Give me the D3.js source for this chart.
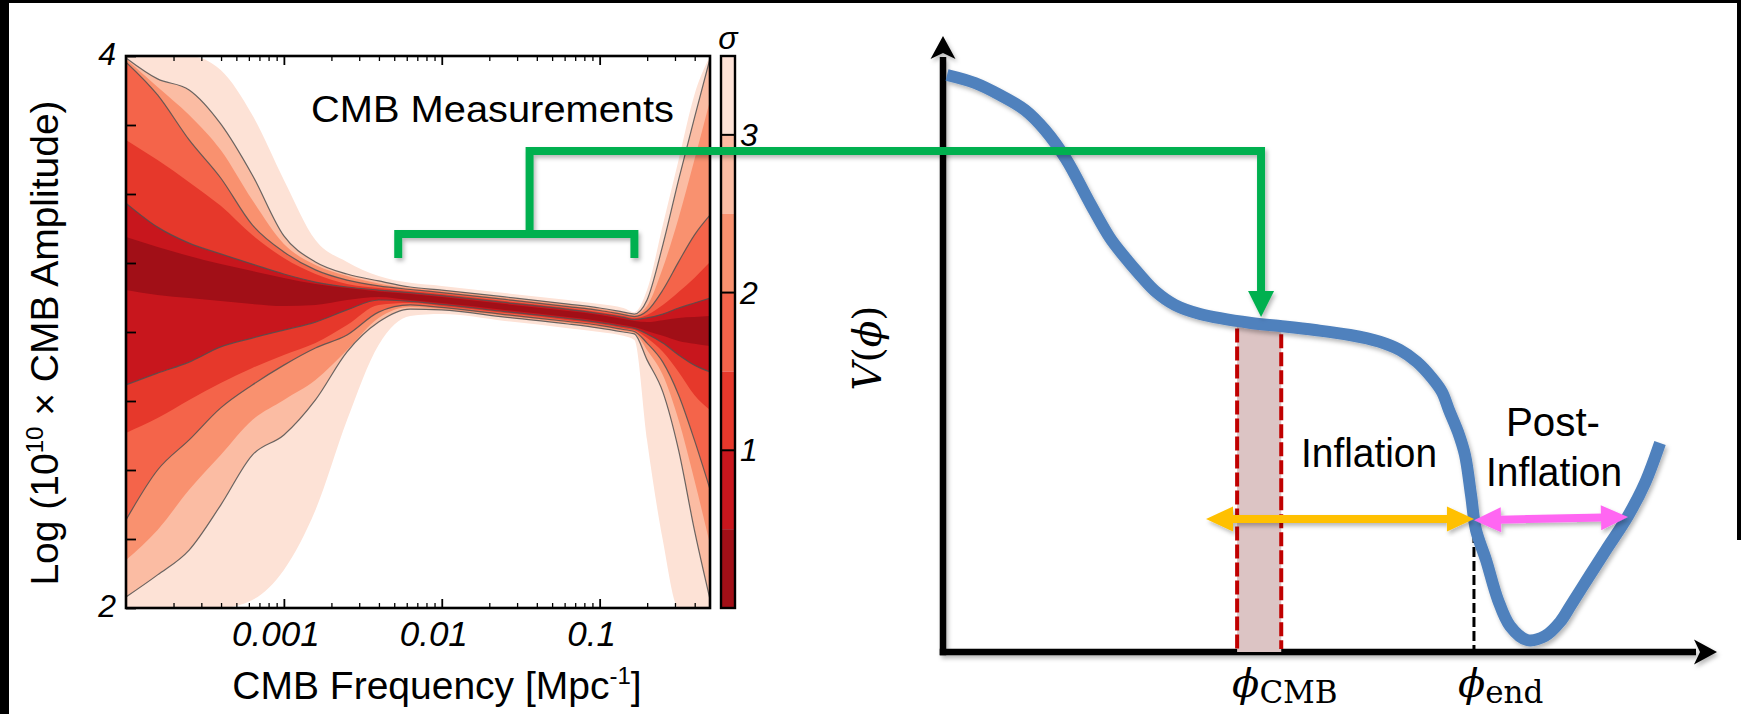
<!DOCTYPE html>
<html><head><meta charset="utf-8">
<script src="https://cdn.jsdelivr.net/npm/d3@7"></script>
<style>
html,body{margin:0;padding:0;background:#fff;}
svg{display:block;}
</style></head>
<body>
<svg id="chart" width="1741" height="714"></svg>
<script>
// ---------------- LEFT PANEL DATA (CMB constraints) ----------------
const logK = [-4.0,-3.8,-3.6,-3.4,-3.2,-3.0,-2.8,-2.6,-2.4,-2.2,-2.0,-1.6,-1.2,-1.0,-0.85,-0.78,-0.7,-0.6,-0.5,-0.4,-0.3];
const sigmaLevels = [3.5,3.0,2.5,2.0,1.5,1.0,0.5];
const upper35 = [4.000,4.000,4.000,3.949,3.786,3.551,3.333,3.254,3.203,3.178,3.167,3.141,3.116,3.101,3.087,3.072,3.152,3.388,3.623,3.859,4.000];
const upper30 = [3.993,3.917,3.877,3.754,3.569,3.348,3.254,3.210,3.185,3.163,3.152,3.127,3.101,3.087,3.072,3.065,3.116,3.315,3.551,3.775,3.993];
const upper25 = [3.989,3.888,3.786,3.659,3.478,3.319,3.243,3.203,3.176,3.159,3.149,3.123,3.098,3.083,3.069,3.062,3.094,3.232,3.413,3.623,3.841];
const upper20 = [3.978,3.859,3.696,3.558,3.388,3.290,3.225,3.188,3.167,3.154,3.143,3.118,3.092,3.078,3.063,3.056,3.076,3.152,3.254,3.351,3.424];
const upper15 = [3.696,3.623,3.543,3.457,3.351,3.268,3.210,3.174,3.159,3.149,3.138,3.112,3.087,3.072,3.058,3.051,3.062,3.098,3.145,3.196,3.254];
const upper10 = [3.467,3.380,3.322,3.283,3.246,3.210,3.181,3.163,3.152,3.143,3.132,3.107,3.082,3.067,3.053,3.045,3.051,3.065,3.087,3.105,3.123];
const upper05 = [3.344,3.308,3.275,3.246,3.221,3.196,3.174,3.159,3.147,3.138,3.127,3.101,3.076,3.062,3.047,3.040,3.036,3.043,3.051,3.054,3.058];
const lower05 = [3.152,3.134,3.123,3.112,3.101,3.094,3.098,3.116,3.127,3.116,3.105,3.080,3.054,3.040,3.025,3.018,3.004,2.986,2.967,2.957,2.949];
const lower10 = [2.808,2.851,2.891,2.946,2.978,3.007,3.036,3.080,3.116,3.111,3.100,3.074,3.049,3.034,3.020,3.013,2.993,2.960,2.917,2.880,2.855];
const lower15 = [2.634,2.688,2.754,2.815,2.870,2.917,2.960,3.025,3.098,3.105,3.094,3.069,3.043,3.029,3.014,3.007,2.978,2.928,2.855,2.772,2.717];
const lower20 = [2.319,2.500,2.609,2.725,2.808,2.880,2.942,2.989,3.072,3.098,3.089,3.063,3.038,3.024,3.009,3.002,2.960,2.891,2.772,2.609,2.428];
const lower25 = [2.174,2.283,2.428,2.554,2.681,2.754,2.826,2.935,3.051,3.091,3.083,3.058,3.033,3.018,3.004,2.996,2.935,2.844,2.681,2.464,2.228];
const lower30 = [2.040,2.120,2.210,2.373,2.554,2.627,2.754,2.928,3.036,3.083,3.080,3.054,3.029,3.014,3.000,2.993,2.899,2.783,2.572,2.283,2.029];
const lower35 = [2.000,2.000,2.000,2.000,2.029,2.138,2.355,2.681,2.953,3.058,3.065,3.040,3.014,3.000,2.986,2.971,2.609,2.246,2.000,2.000,2.000];
const bandColors = ["#fde2d6","#fbbca3","#f9916f","#f4644a","#e6382b","#c8161d","#a10f17"];
const kMajorTicks = [0.001, 0.01, 0.1];
const kMajorLabels = ["0.001","0.01","0.1"];
const ampTicks = [2,2.25,2.5,2.75,3,3.25,3.5,3.75,4];
const ampLabelValues = [4,2];
const sigmaTicks = [1,2,3];
const kDomain = [1e-4, 0.5];
const ampDomain = [2, 4];
const sigmaDomain = [0, 3.5];

// green bracket / link (data coordinates)
const bracketK = [0.0053, 0.166];
const stemK = 0.036;
const bracketAmp = 3.355, bracketTickAmp = 3.268, linkAmp = 3.656;

// ---------------- RIGHT PANEL DATA (potential) ----------------
const potPhi = [0.052,0.413,0.736,1.059,1.318,1.589,1.912,2.158,2.326,2.545,2.739,2.997,3.320,3.979,4.354,4.806,5.258,5.633,5.904,6.124,6.318,6.447,6.537,6.654,6.744,6.822,6.886,7.016,7.171,7.326,7.545,7.778,7.972,8.114,8.359,8.566,8.850,9.070,9.264];
const potV   = [9.367,9.237,9.042,8.799,8.474,8.003,7.256,6.721,6.445,6.120,5.860,5.633,5.487,5.341,5.292,5.227,5.146,5.041,4.903,4.708,4.448,4.221,3.929,3.571,3.198,2.549,1.981,1.494,0.844,0.422,0.195,0.260,0.487,0.763,1.250,1.656,2.208,2.744,3.393];
const phiCMB = [3.80, 4.37];
const phiEnd = 6.86;
const inflationArrow = {phi0: 3.398, phi1: 6.86, v: 2.159};
const postArrow = {phi0: 6.86, v0: 2.14, phi1: 8.85, v1: 2.19};
const greenTarget = {phi: 4.109, v: 5.438};

// ---------------- SETUP ----------------
const svg = d3.select("#chart");
const defs = svg.append("defs");
const filt = defs.append("filter").attr("id","shadow").attr("x","-20%").attr("y","-20%").attr("width","140%").attr("height","140%");
filt.append("feDropShadow").attr("dx",2).attr("dy",3).attr("stdDeviation",2).attr("flood-color","#000").attr("flood-opacity",0.28);

svg.append("rect").attr("width",1741).attr("height",714).attr("fill","#fff");

const P = {x0:126, x1:710, y0:56, y1:608};
const xK = d3.scaleLog().domain(kDomain).range([P.x0, P.x1]);
const yA = d3.scaleLinear().domain(ampDomain).range([P.y1, P.y0]);
const sS = d3.scaleLinear().domain(sigmaDomain).range([P.y1, P.y0]);

defs.append("clipPath").attr("id","plotclip").append("rect")
  .attr("x",P.x0).attr("y",P.y0).attr("width",P.x1-P.x0).attr("height",P.y1-P.y0);

const uppers = [upper35,upper30,upper25,upper20,upper15,upper10,upper05];
const lowers = [lower35,lower30,lower25,lower20,lower15,lower10,lower05];

const gC = svg.append("g").attr("clip-path","url(#plotclip)");
const area = d3.area().x(d=>xK(d.k)).y0(d=>yA(d.lo)).y1(d=>yA(d.hi)).curve(d3.curveMonotoneX);
sigmaLevels.forEach((lev,i)=>{
  const data = logK.map((lk,j)=>({k:Math.pow(10,lk), hi:uppers[i][j], lo:lowers[i][j]}));
  gC.append("path").datum(data).attr("d",area).attr("fill",bandColors[i]);
});
const line = d3.line().x(d=>xK(d.k)).y(d=>yA(d.v)).curve(d3.curveMonotoneX);
[upper30,lower30,upper20,lower20,upper10,lower10].forEach(arr=>{
  const data = logK.map((lk,j)=>({k:Math.pow(10,lk), v:arr[j]}));
  gC.append("path").datum(data).attr("d",line).attr("fill","none")
    .attr("stroke","#505050").attr("stroke-width",1.2).attr("stroke-opacity",0.85);
});

// ticks
const minorK = [];
for (let d=-4; d<=-1; d++) for (let m=2; m<=9; m++){ const v=m*Math.pow(10,d); if (v<kDomain[1]) minorK.push(v); }
function styleAxis(g, w){ g.select(".domain").remove(); g.selectAll(".tick line").attr("stroke","#000").attr("stroke-width",w); }
styleAxis(svg.append("g").attr("transform",`translate(0,${P.y1})`).call(d3.axisBottom(xK).tickValues(minorK).tickSize(-5).tickFormat("")),1.3);
styleAxis(svg.append("g").attr("transform",`translate(0,${P.y1})`).call(d3.axisBottom(xK).tickValues(kMajorTicks).tickSize(-9).tickFormat("")),1.8);
styleAxis(svg.append("g").attr("transform",`translate(0,${P.y0})`).call(d3.axisTop(xK).tickValues(minorK).tickSize(-5).tickFormat("")),1.3);
styleAxis(svg.append("g").attr("transform",`translate(0,${P.y0})`).call(d3.axisTop(xK).tickValues(kMajorTicks).tickSize(-9).tickFormat("")),1.8);
styleAxis(svg.append("g").attr("transform",`translate(${P.x0},0)`).call(d3.axisLeft(yA).tickValues(ampTicks).tickSize(-10).tickFormat("")),1.8);

svg.append("rect").attr("x",P.x0).attr("y",P.y0).attr("width",P.x1-P.x0).attr("height",P.y1-P.y0)
  .attr("fill","none").attr("stroke","#000").attr("stroke-width",2.6);

const sans = "'Liberation Sans', Arial, sans-serif";
kMajorTicks.forEach((k,i)=>{
  svg.append("text").attr("x",xK(k)-8).attr("y",646).attr("text-anchor","middle")
    .attr("font-family",sans).attr("font-style","italic").attr("font-size",35).text(kMajorLabels[i]);
});
ampLabelValues.forEach(v=>{
  svg.append("text").attr("x",P.x0-10).attr("y",yA(v)+9).attr("text-anchor","end")
    .attr("font-family",sans).attr("font-style","italic").attr("font-size",32).text(String(v));
});
// x label
const xl = svg.append("text").attr("x",437).attr("y",699).attr("text-anchor","middle")
  .attr("font-family",sans).attr("font-size",39);
xl.append("tspan").text("CMB Frequency [Mpc");
xl.append("tspan").attr("font-size",24).attr("dy",-15).text("-1");
xl.append("tspan").attr("dy",15).text("]");
// y label
const yl = svg.append("text").attr("transform","translate(58,343) rotate(-90)").attr("text-anchor","middle")
  .attr("font-family",sans).attr("font-size",39);
yl.append("tspan").text("Log (10");
yl.append("tspan").attr("font-size",24).attr("dy",-15).text("10");
yl.append("tspan").attr("dy",15).text(" \u00d7 CMB Amplitude)");
// title
svg.append("text").attr("x",311).attr("y",122).attr("font-family",sans).attr("font-size",37)
  .attr("textLength",363).attr("lengthAdjust","spacingAndGlyphs").text("CMB Measurements");

// colorbar
const CB = {x:721, w:14};
sigmaLevels.forEach((lev,i)=>{
  svg.append("rect").attr("x",CB.x).attr("width",CB.w).attr("y",sS(lev)).attr("height",sS(lev-0.5)-sS(lev)).attr("fill",bandColors[i]);
});
sigmaTicks.forEach(s=>{
  svg.append("line").attr("x1",CB.x).attr("x2",CB.x+CB.w).attr("y1",sS(s)).attr("y2",sS(s)).attr("stroke","#000").attr("stroke-width",2);
  svg.append("text").attr("x",CB.x+CB.w+5).attr("y",sS(s)+11).attr("font-family",sans).attr("font-style","italic")
    .attr("font-size",32).text(String(s));
});
svg.append("rect").attr("x",CB.x).attr("y",P.y0).attr("width",CB.w).attr("height",P.y1-P.y0)
  .attr("fill","none").attr("stroke","#000").attr("stroke-width",2.4);
svg.append("text").attr("x",CB.x+CB.w/2).attr("y",49).attr("text-anchor","middle").attr("font-family",sans)
  .attr("font-style","italic").attr("font-size",32).text("\u03c3");

// ---------------- RIGHT PANEL ----------------
const phiX = d3.scaleLinear().domain([0,10]).range([943,1717]);
const VY = d3.scaleLinear().domain([0,10]).range([652,36]);
function curveV(phi){
  const i = d3.bisectLeft(potPhi, phi);
  if (i<=0) return potV[0];
  if (i>=potPhi.length) return potV[potPhi.length-1];
  const t=(phi-potPhi[i-1])/(potPhi[i]-potPhi[i-1]);
  return potV[i-1]+t*(potV[i]-potV[i-1]);
}
// axes with arrowheads
const gAx = svg.append("g").attr("filter","url(#shadow)");
const AL=23, AH=12.5, AN=6;
gAx.append("line").attr("x1",phiX(0)).attr("x2",phiX(0)).attr("y1",VY(0)+3.25).attr("y2",VY(10)+AL-2).attr("stroke","#000").attr("stroke-width",6.5);
gAx.append("line").attr("x1",phiX(0)-3.25).attr("x2",phiX(10)-AL+2).attr("y1",VY(0)).attr("y2",VY(0)).attr("stroke","#000").attr("stroke-width",6.5);
{
  const tx=phiX(0), ty=VY(10);
  gAx.append("polygon").attr("points",`${tx},${ty} ${tx+AH},${ty+AL} ${tx},${ty+AL-AN} ${tx-AH},${ty+AL}`).attr("fill","#000");
  const rx=phiX(10), ry=VY(0);
  gAx.append("polygon").attr("points",`${rx},${ry} ${rx-AL},${ry-AH} ${rx-AL+AN},${ry} ${rx-AL},${ry+AH}`).attr("fill","#000");
}
// CMB band
const vCMB0 = curveV(phiCMB[0]), vCMB1 = curveV(phiCMB[1]);
svg.append("path").attr("d",`M${phiX(phiCMB[0])},${VY(0)} L${phiX(phiCMB[0])},${VY(vCMB0)} L${phiX(phiCMB[1])},${VY(vCMB1)} L${phiX(phiCMB[1])},${VY(0)} Z`)
  .attr("fill","#dcc4c4");
phiCMB.forEach(p=>{
  svg.append("line").attr("x1",phiX(p)).attr("x2",phiX(p)).attr("y1",VY(curveV(p))+8).attr("y2",VY(0)-3)
    .attr("stroke","#c00000").attr("stroke-width",4).attr("stroke-dasharray","14,4");
});
svg.append("line").attr("x1",phiX(phiEnd)).attr("x2",phiX(phiEnd)).attr("y1",VY(inflationArrow.v)).attr("y2",VY(0)-3)
  .attr("stroke","#000").attr("stroke-width",3).attr("stroke-dasharray","10,4");

// potential curve
svg.append("path").datum(potPhi.map((p,i)=>({p, v:potV[i]})))
  .attr("d", d3.line().x(d=>phiX(d.p)).y(d=>VY(d.v)).curve(d3.curveCatmullRom.alpha(0.5)))
  .attr("fill","none").attr("stroke","#4f81bd").attr("stroke-width",12).attr("stroke-linecap","butt")
  .attr("filter","url(#shadow)");

// double arrows
function doubleArrow(x1,y1,x2,y2,color){
  const g = svg.append("g").attr("filter","url(#shadow)");
  const L=27, Hh=12.5;
  const dx=x2-x1, dy=y2-y1, len=Math.hypot(dx,dy), ux=dx/len, uy=dy/len, nx=-uy, ny=ux;
  g.append("line").attr("x1",x1+ux*(L-2)).attr("y1",y1+uy*(L-2)).attr("x2",x2-ux*(L-2)).attr("y2",y2-uy*(L-2))
    .attr("stroke",color).attr("stroke-width",8);
  const head=(tx,ty,sx,sy)=>`${tx},${ty} ${tx+sx*L+nx*Hh},${ty+sy*L+ny*Hh} ${tx+sx*L-nx*Hh},${ty+sy*L-ny*Hh}`;
  g.append("polygon").attr("points",head(x1,y1,ux,uy)).attr("fill",color);
  g.append("polygon").attr("points",head(x2,y2,-ux,-uy)).attr("fill",color);
}
doubleArrow(phiX(inflationArrow.phi0),VY(inflationArrow.v),phiX(inflationArrow.phi1),VY(inflationArrow.v),"#ffc000");
doubleArrow(phiX(postArrow.phi0),VY(postArrow.v0),phiX(postArrow.phi1),VY(postArrow.v1),"#ff66f2");

// green connector
const gG = svg.append("g").attr("filter","url(#shadow)");
gG.append("path").attr("d",`M${xK(bracketK[0])},${yA(bracketTickAmp)} L${xK(bracketK[0])},${yA(bracketAmp)} L${xK(bracketK[1])},${yA(bracketAmp)} L${xK(bracketK[1])},${yA(bracketTickAmp)}`)
  .attr("fill","none").attr("stroke","#00b050").attr("stroke-width",8).attr("stroke-linejoin","miter");
const tipX = phiX(greenTarget.phi), tipY = VY(greenTarget.v);
gG.append("path").attr("d",`M${xK(stemK)},${yA(bracketAmp)} L${xK(stemK)},${yA(linkAmp)} L${tipX},${yA(linkAmp)} L${tipX},${tipY-22}`)
  .attr("fill","none").attr("stroke","#00b050").attr("stroke-width",8).attr("stroke-linejoin","miter");
gG.append("polygon").attr("points",`${tipX},${tipY} ${tipX-13},${tipY-26} ${tipX+13},${tipY-26}`).attr("fill","#00b050");

// texts right
svg.append("text").attr("x",1369).attr("y",467).attr("text-anchor","middle").attr("font-family",sans).attr("font-size",41)
  .attr("textLength",136).attr("lengthAdjust","spacingAndGlyphs").text("Inflation");
svg.append("text").attr("x",1553).attr("y",436).attr("text-anchor","middle").attr("font-family",sans).attr("font-size",41)
  .attr("textLength",94).attr("lengthAdjust","spacingAndGlyphs").text("Post-");
svg.append("text").attr("x",1554).attr("y",486).attr("text-anchor","middle").attr("font-family",sans).attr("font-size",41)
  .attr("textLength",136).attr("lengthAdjust","spacingAndGlyphs").text("Inflation");

const serif = "'DejaVu Serif', 'Liberation Serif', serif";
const vl = svg.append("text").attr("transform","translate(881,348) rotate(-90)").attr("text-anchor","middle")
  .attr("font-family",serif).attr("font-size",39);
vl.append("tspan").attr("font-style","italic").text("V");
vl.append("tspan").text("(");
vl.append("tspan").attr("font-style","italic").text("\u03d5");
vl.append("tspan").text(")");

function phiLabel(x, sub){
  const t = svg.append("text").attr("x",x).attr("y",697).attr("font-family",serif).attr("font-size",40);
  t.append("tspan").attr("font-style","italic").text("\u03d5");
  t.append("tspan").attr("font-size",31).attr("dy",6).text(sub);
}
phiLabel(phiX(phiCMB[0])-5, "CMB");
phiLabel(phiX(phiEnd)-16, "end");

// black frame strips of the picture
svg.append("rect").attr("x",0).attr("y",0).attr("width",1741).attr("height",3).attr("fill","#000");
svg.append("rect").attr("x",0).attr("y",0).attr("width",9).attr("height",714).attr("fill","#000");
svg.append("rect").attr("x",1737).attr("y",0).attr("width",4).attr("height",540).attr("fill","#000");
</script>
</body></html>
